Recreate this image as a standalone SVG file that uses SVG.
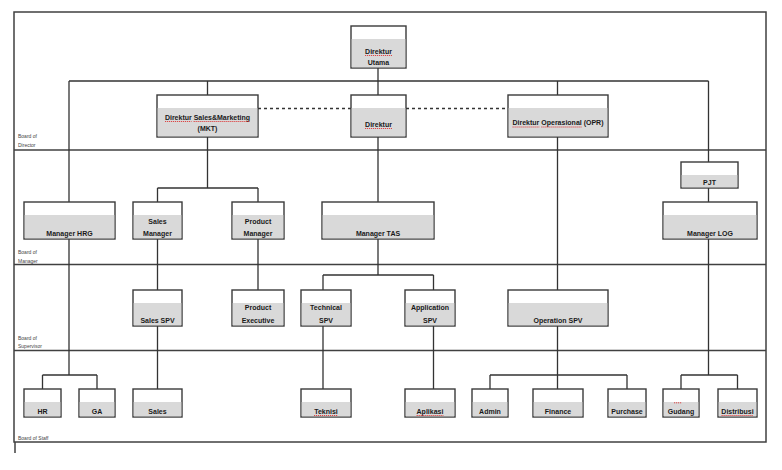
<svg xmlns="http://www.w3.org/2000/svg" width="782" height="470" viewBox="0 0 782 470">
<style>
.frame{fill:none;stroke:#404040;stroke-width:1.5}
.ln{fill:none;stroke:#333;stroke-width:1.3}
.dot{fill:none;stroke:#333;stroke-width:1.5;stroke-dasharray:3 3}
.bx{fill:#fff;stroke:#3a3a3a;stroke-width:1.4}
.g{fill:#d9d9d9}
.t{font-family:"Liberation Sans",Arial,sans-serif;font-weight:bold;font-size:7px;fill:#1a1a1a;text-anchor:middle}
.lab{font-family:"Liberation Sans",Arial,sans-serif;font-size:5px;fill:#444}
.sp{fill:none;stroke:#d22;stroke-width:0.8;stroke-dasharray:1.2 0.8}
</style>
<rect width="782" height="470" fill="#fff"/>
<g id="frame">
<rect class="frame" x="14" y="12" width="752" height="430"/>
<line class="frame" x1="14" y1="150" x2="766" y2="150"/>
<line class="frame" x1="14" y1="264.5" x2="766" y2="264.5"/>
<line class="frame" x1="14" y1="350.5" x2="766" y2="350.5"/>
<line class="frame" x1="15" y1="442" x2="15" y2="453"/>
<text class="lab" x="18" y="138">Board of</text>
<text class="lab" x="18" y="147">Director</text>
<text class="lab" x="18" y="254">Board of</text>
<text class="lab" x="18" y="262.5">Manager</text>
<text class="lab" x="18" y="339.5">Board of</text>
<text class="lab" x="18" y="348">Supervisor</text>
<text class="lab" x="18" y="439.5">Board of Staff</text>
</g>
<g id="connectors">
<path class="ln" d="M69 81H708.5M69 81V202M207.5 81V95M378 68V95M557.5 81V95M708.5 81V162"/>
<line class="dot" x1="258" y1="108.5" x2="351" y2="108.5"/>
<line class="dot" x1="406" y1="108.5" x2="508" y2="108.5"/>
<path class="ln" d="M207.5 137V188M157.5 188H258M157.5 188V202M258 188V202"/>
<path class="ln" d="M378 137V202M378 239V275M323 275H433.5M323 275V290M433.5 275V290"/>
<path class="ln" d="M557.5 137V290M557.5 326V375M490 375H627M490 375V389M557.5 375V389M627 375V389"/>
<path class="ln" d="M708.5 188V202M708.5 239V375M681 375H737.5M681 375V389M737.5 375V389"/>
<path class="ln" d="M69 239V375M42.5 375H97M42.5 375V389M97 375V389"/>
<path class="ln" d="M157.5 239V290M157.5 326V389M258 239V290"/>
<path class="ln" d="M323 326V389M433.5 326V389"/>
</g>
<g id="direktur-utama">
<rect class="bx" x="351" y="26" width="55" height="42"/>
<rect class="g" x="351.7" y="39" width="53.6" height="28.3"/>
<text class="t" x="378.5" y="53.5">Direktur</text>
<text class="t" x="378.5" y="64.5">Utama</text>
<line class="sp" x1="365" y1="55.5" x2="392" y2="55.5"/>
</g>
<g id="direktur-sales-marketing">
<rect class="bx" x="157" y="95" width="101" height="42"/>
<rect class="g" x="157.7" y="108" width="99.6" height="28.3"/>
<text class="t" x="207.5" y="119.5">Direktur Sales&amp;Marketing</text>
<text class="t" x="207.5" y="130.5">(MKT)</text>
<line class="sp" x1="165" y1="121.5" x2="191.5" y2="121.5"/>
<line class="sp" x1="193.6" y1="121.5" x2="250" y2="121.5"/>
</g>
<g id="direktur">
<rect class="bx" x="351" y="95" width="55" height="42"/>
<rect class="g" x="351.7" y="108" width="53.6" height="28.3"/>
<text class="t" x="378.5" y="126.5">Direktur</text>
<line class="sp" x1="365" y1="128.5" x2="392" y2="128.5"/>
</g>
<g id="direktur-operasional">
<rect class="bx" x="508" y="95" width="100" height="42"/>
<rect class="g" x="508.7" y="108" width="98.6" height="28.3"/>
<text class="t" x="558" y="125">Direktur Operasional (OPR)</text>
<line class="sp" x1="512.5" y1="127" x2="539.3" y2="127"/>
<line class="sp" x1="541.3" y1="127" x2="581.8" y2="127"/>
</g>
<g id="pjt">
<rect class="bx" x="681" y="162" width="57" height="26"/>
<rect class="g" x="681.7" y="175" width="55.6" height="12.3"/>
<text class="t" x="709.5" y="184.5">PJT</text>
</g>
<g id="manager-hrg">
<rect class="bx" x="24" y="202" width="91" height="37"/>
<rect class="g" x="24.7" y="215" width="89.6" height="23.3"/>
<text class="t" x="69.5" y="235.5">Manager HRG</text>
</g>
<g id="sales-manager">
<rect class="bx" x="133" y="202" width="49" height="37"/>
<rect class="g" x="133.7" y="215" width="47.6" height="23.3"/>
<text class="t" x="157.5" y="223.5">Sales</text>
<text class="t" x="157.5" y="235.5">Manager</text>
</g>
<g id="product-manager">
<rect class="bx" x="232" y="202" width="52" height="37"/>
<rect class="g" x="232.7" y="215" width="50.6" height="23.3"/>
<text class="t" x="258" y="223.5">Product</text>
<text class="t" x="258" y="235.5">Manager</text>
</g>
<g id="manager-tas">
<rect class="bx" x="322" y="202" width="112" height="37"/>
<rect class="g" x="322.7" y="215" width="110.6" height="23.3"/>
<text class="t" x="378" y="235.5">Manager TAS</text>
</g>
<g id="manager-log">
<rect class="bx" x="663" y="202" width="94" height="37"/>
<rect class="g" x="663.7" y="215" width="92.6" height="23.3"/>
<text class="t" x="710" y="235.5">Manager LOG</text>
</g>
<g id="sales-spv">
<rect class="bx" x="133" y="290" width="49" height="36"/>
<rect class="g" x="133.7" y="303" width="47.6" height="22.3"/>
<text class="t" x="157.5" y="322.5">Sales SPV</text>
</g>
<g id="product-executive">
<rect class="bx" x="232" y="290" width="52" height="36"/>
<rect class="g" x="232.7" y="303" width="50.6" height="22.3"/>
<text class="t" x="258" y="310">Product</text>
<text class="t" x="258" y="322.5">Executive</text>
</g>
<g id="technical-spv">
<rect class="bx" x="301" y="290" width="50" height="36"/>
<rect class="g" x="301.7" y="303" width="48.6" height="22.3"/>
<text class="t" x="326" y="310">Technical</text>
<text class="t" x="326" y="322.5">SPV</text>
</g>
<g id="application-spv">
<rect class="bx" x="405" y="290" width="50" height="36"/>
<rect class="g" x="405.7" y="303" width="48.6" height="22.3"/>
<text class="t" x="430" y="310">Application</text>
<text class="t" x="430" y="322.5">SPV</text>
</g>
<g id="operation-spv">
<rect class="bx" x="508" y="290" width="100" height="36"/>
<rect class="g" x="508.7" y="303" width="98.6" height="22.3"/>
<text class="t" x="558" y="322.5">Operation SPV</text>
</g>
<g id="hr">
<rect class="bx" x="24" y="389" width="37" height="28"/>
<rect class="g" x="24.7" y="402" width="35.6" height="14.3"/>
<text class="t" x="42.5" y="413.5">HR</text>
</g>
<g id="ga">
<rect class="bx" x="79" y="389" width="36" height="28"/>
<rect class="g" x="79.7" y="402" width="34.6" height="14.3"/>
<text class="t" x="97" y="413.5">GA</text>
</g>
<g id="sales">
<rect class="bx" x="133" y="389" width="49" height="28"/>
<rect class="g" x="133.7" y="402" width="47.6" height="14.3"/>
<text class="t" x="157.5" y="413.5">Sales</text>
</g>
<g id="teknisi">
<rect class="bx" x="301" y="389" width="50" height="28"/>
<rect class="g" x="301.7" y="402" width="48.6" height="14.3"/>
<text class="t" x="326" y="413.5">Teknisi</text>
<line class="sp" x1="314" y1="415.5" x2="338" y2="415.5"/>
</g>
<g id="aplikasi">
<rect class="bx" x="405" y="389" width="50" height="28"/>
<rect class="g" x="405.7" y="402" width="48.6" height="14.3"/>
<text class="t" x="430" y="413.5">Aplikasi</text>
<line class="sp" x1="416.6" y1="415.5" x2="443.4" y2="415.5"/>
</g>
<g id="admin">
<rect class="bx" x="472" y="389" width="36" height="28"/>
<rect class="g" x="472.7" y="402" width="34.6" height="14.3"/>
<text class="t" x="490" y="413.5">Admin</text>
</g>
<g id="finance">
<rect class="bx" x="533" y="389" width="50" height="28"/>
<rect class="g" x="533.7" y="402" width="48.6" height="14.3"/>
<text class="t" x="558" y="413.5">Finance</text>
</g>
<g id="purchase">
<rect class="bx" x="608" y="389" width="38" height="28"/>
<rect class="g" x="608.7" y="402" width="36.6" height="14.3"/>
<text class="t" x="627" y="413.5">Purchase</text>
</g>
<g id="gudang">
<rect class="bx" x="663" y="389" width="36" height="28"/>
<rect class="g" x="663.7" y="402" width="34.6" height="14.3"/>
<text class="t" x="681" y="413.5">Gudang</text>
<line class="sp" x1="674" y1="402.8" x2="682" y2="402.8"/>
</g>
<g id="distribusi">
<rect class="bx" x="718" y="389" width="39" height="28"/>
<rect class="g" x="718.7" y="402" width="37.6" height="14.3"/>
<text class="t" x="737.5" y="413.5">Distribusi</text>
<line class="sp" x1="721.5" y1="415.5" x2="753.5" y2="415.5"/>
</g>
</svg>
